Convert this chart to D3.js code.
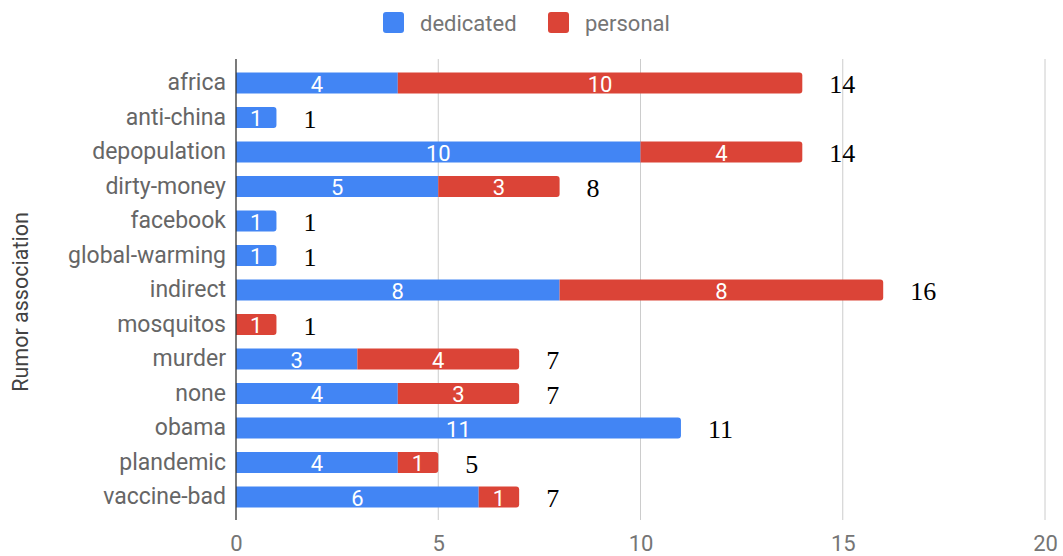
<!DOCTYPE html>
<html><head><meta charset="utf-8">
<script src="https://cdn.jsdelivr.net/npm/d3@7"></script>
<style>body{margin:0;background:#fff}svg{display:block}</style>
</head><body>
<svg id="c" width="1063" height="556"></svg>
<script>
const categories = ["africa","anti-china","depopulation","dirty-money","facebook","global-warming","indirect","mosquitos","murder","none","obama","plandemic","vaccine-bad"];
const dedicated = [4,1,10,5,1,1,8,0,3,4,11,4,6];
const personal  = [10,0,4,3,0,0,8,1,4,3,0,1,1];
const seriesNames = ["dedicated","personal"];
const xTicks = [0,5,10,15,20];
const colors = {dedicated:"#4285F4", personal:"#DB4437"};

const svg = d3.select("#c");
const x = d3.scaleLinear().domain([0,20]).range([236,1045]);
const y = d3.scaleBand().domain(categories).range([65.75,514.25]).paddingInner(0.39).paddingOuter(0.195);
const gridTop = 59, gridBottom = 520;

const rows = categories.map((c,i)=>({cat:c, dedicated:dedicated[i], personal:personal[i]}));
const stack = d3.stack().keys(seriesNames)(rows);

// grid
svg.append("g").selectAll("line").data(xTicks.filter(t=>t>0)).join("line")
  .attr("x1",d=>x(d)).attr("x2",d=>x(d)).attr("y1",gridTop).attr("y2",gridBottom)
  .attr("stroke","#cccccc").attr("stroke-width",1);

// bars
stack.forEach((layer)=>{
  const key = layer.key;
  const g = svg.append("g");
  layer.forEach((seg,i)=>{
    const v = seg[1]-seg[0];
    if(v<=0) return;
    const total = dedicated[i]+personal[i];
    const isLast = seg[1]===total;
    const x0 = x(seg[0]), x1 = x(seg[1]), yy = y(categories[i]), h = y.bandwidth();
    const r = 3;
    let path;
    if(isLast){
      path = `M${x0},${yy}H${x1-r}Q${x1},${yy} ${x1},${yy+r}V${yy+h-r}Q${x1},${yy+h} ${x1-r},${yy+h}H${x0}Z`;
    } else {
      path = `M${x0},${yy}H${x1}V${yy+h}H${x0}Z`;
    }
    g.append("path").attr("d",path).attr("fill",colors[key]);
    g.append("text").attr("x",(x0+x1)/2).attr("y",yy+h/2+8.5)
      .attr("text-anchor","middle").attr("fill","#fff")
      .style("font-family","Roboto").style("font-size","22px").text(v);
  });
});

// totals
svg.append("g").selectAll("text").data(rows).join("text")
  .attr("x",d=>x(d.dedicated+d.personal)+27).attr("y",d=>y(d.cat)+y.bandwidth()/2+10)
  .attr("fill","#000").style("font-family","'Liberation Serif'").style("font-size","26px")
  .text(d=>d.dedicated+d.personal);

// y axis line
svg.append("line").attr("x1",236).attr("x2",236).attr("y1",gridTop).attr("y2",gridBottom)
  .attr("stroke","#333").attr("stroke-width",1.3);

// y labels
const yAxis = d3.axisLeft(y).tickSize(0).tickPadding(10);
const ga = svg.append("g").attr("transform","translate(236,0)").call(yAxis);
ga.select(".domain").remove();
ga.selectAll("text").attr("fill","#666666").style("font-family","Roboto").style("font-size","23px").attr("dy","0.32em");

// x ticks
const xAxis = d3.axisBottom(x).tickValues(xTicks).tickSize(0).tickPadding(0);
const gx = svg.append("g").attr("transform","translate(0,551)").call(xAxis);
gx.select(".domain").remove();
gx.selectAll("text").attr("fill","#757575").attr("y",0).attr("dy",0).style("font-family","Roboto").style("font-size","22px");

// y title
svg.append("text").attr("transform","translate(28,302) rotate(-90)").attr("text-anchor","middle")
  .attr("fill","#424242").style("font-family","Roboto").style("font-size","21.5px").text("Rumor association");

// legend
const leg = svg.append("g");
const legItems = [{k:"dedicated",x:383,tx:420},{k:"personal",x:548,tx:585}];
legItems.forEach(it=>{
  leg.append("rect").attr("x",it.x).attr("y",12).attr("width",21).attr("height",21).attr("rx",3).attr("fill",colors[it.k]);
  leg.append("text").attr("x",it.tx).attr("y",31).attr("fill","#757575").style("font-family","Roboto").style("font-size","22px").text(it.k);
});
</script>
</body></html>
